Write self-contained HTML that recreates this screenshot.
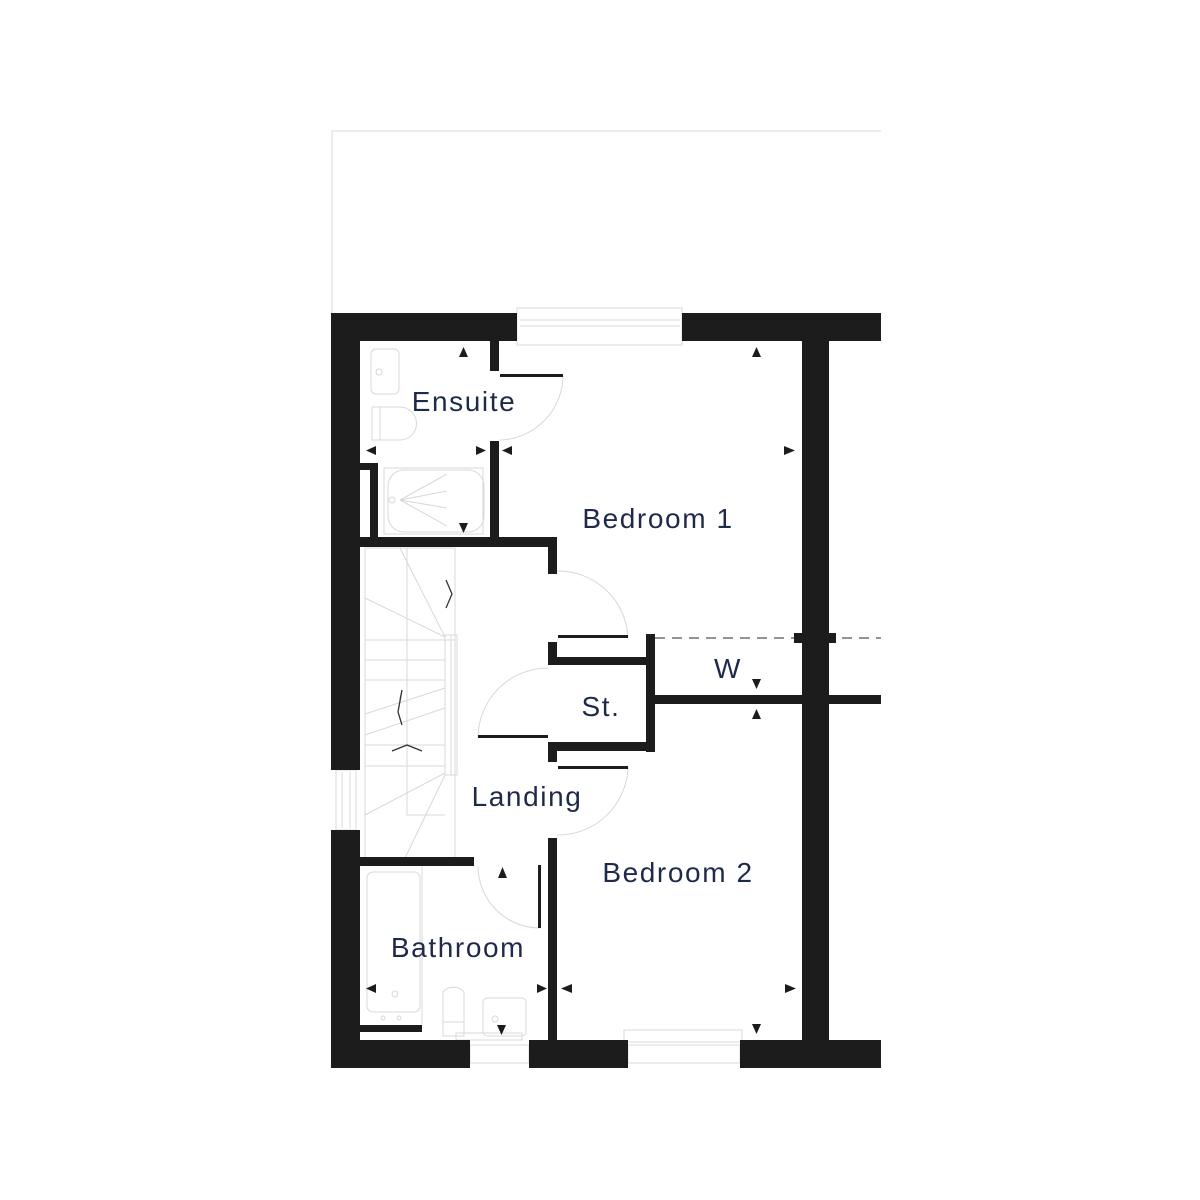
<!DOCTYPE html>
<html><head><style>body{margin:0;background:#fff}svg{display:block}</style></head><body>
<svg width="1200" height="1200" viewBox="0 0 1200 1200" xmlns="http://www.w3.org/2000/svg">
<g fill="none" stroke="#d8d8d8" stroke-width="1">
<polyline points="332,313 332,131 881,131"/>
<rect x="517" y="308" width="165" height="37"/>
<line x1="520" y1="320" x2="680" y2="320"/><line x1="520" y1="326" x2="680" y2="326"/>
<rect x="336" y="770" width="20" height="60"/>
<line x1="342" y1="772" x2="342" y2="828"/><line x1="350" y1="772" x2="350" y2="828"/>
<rect x="470" y="1045" width="59" height="18"/><rect x="628" y="1045" width="112" height="18"/>
<rect x="624" y="1030" width="118" height="12"/>
<rect x="371" y="349" width="28" height="45" rx="5"/><circle cx="379" cy="372" r="3"/>
<path d="M372 407 H400 A14 14 0 0 1 400 440 H372 Z"/><line x1="380" y1="407" x2="380" y2="440"/>
<rect x="384" y="468" width="99" height="66"/><rect x="388" y="470" width="96" height="62" rx="16"/>
<circle cx="392" cy="500" r="3"/>
<line x1="400" y1="500" x2="447" y2="474"/><line x1="400" y1="500" x2="447" y2="491"/><line x1="400" y1="500" x2="447" y2="508"/><line x1="400" y1="500" x2="447" y2="526"/>
<rect x="365" y="548" width="90" height="310"/>
<line x1="407" y1="548" x2="407" y2="815"/>
<line x1="365" y1="640" x2="455" y2="640"/><line x1="365" y1="660" x2="445" y2="660"/>
<line x1="365" y1="680" x2="445" y2="680"/><line x1="365" y1="745" x2="445" y2="745"/>
<line x1="365" y1="766" x2="445" y2="766"/>
<line x1="365" y1="714" x2="445" y2="688"/><line x1="365" y1="735" x2="445" y2="708"/>
<line x1="365" y1="815" x2="445" y2="773"/><line x1="407" y1="815" x2="445" y2="815"/>
<line x1="365" y1="598" x2="445" y2="637"/><line x1="400" y1="548" x2="445" y2="637"/>
<line x1="405" y1="858" x2="445" y2="775"/>
<rect x="445" y="635" width="12" height="140"/><line x1="451" y1="635" x2="451" y2="775"/>
<path d="M563 376 A65 65 0 0 1 500 440"/>
<path d="M557 571 A70 70 0 0 1 628 637"/>
<path d="M628 767 A70 70 0 0 1 557 835"/>
<path d="M478 737 A70 70 0 0 1 548 668"/>
<path d="M478 866 A62 62 0 0 0 540 928"/>
<rect x="367" y="872" width="53" height="140" rx="6"/><circle cx="395" cy="994" r="3"/>
<circle cx="383" cy="1018" r="2"/><circle cx="399" cy="1018" r="2"/>
<line x1="422" y1="866" x2="422" y2="1025"/>
<path d="M443 1036 V992 A14 14 0 0 1 464 992 V1036 Z"/><line x1="443" y1="1022" x2="464" y2="1022"/>
<rect x="483" y="998" width="43" height="38" rx="4"/><circle cx="495" cy="1019" r="3"/>
<rect x="456" y="1033" width="66" height="7"/>
</g>
<line x1="655" y1="638" x2="881" y2="638" stroke="#555" stroke-width="1.2" stroke-dasharray="10,7"/>
<g fill="#1c1c1c">
<rect x="331" y="313" width="186" height="28"/><rect x="682" y="313" width="199" height="28"/>
<rect x="331" y="313" width="29" height="457"/><rect x="331" y="830" width="29" height="238"/>
<rect x="331" y="1040" width="139" height="28"/><rect x="529" y="1040" width="99" height="28"/><rect x="740" y="1040" width="141" height="28"/>
<rect x="802" y="341" width="27" height="699"/>
<rect x="653" y="695" width="228" height="9"/>
<rect x="794" y="633" width="42" height="10"/>
<rect x="646" y="634" width="9" height="118"/>
<rect x="548" y="657" width="107" height="8"/><rect x="548" y="742" width="107" height="9"/>
<rect x="548" y="642" width="9" height="23"/><rect x="548" y="742" width="9" height="20"/>
<rect x="558" y="635" width="70" height="3"/><rect x="558" y="766" width="70" height="3"/><rect x="478" y="735" width="70" height="3"/>
<rect x="490" y="341" width="9" height="30"/><rect x="500" y="374" width="63" height="3"/>
<rect x="490" y="441" width="9" height="97"/>
<rect x="360" y="537" width="197" height="10"/><rect x="548" y="537" width="9" height="37"/>
<rect x="370" y="463" width="8" height="75"/><rect x="360" y="463" width="18" height="7"/>
<rect x="360" y="857" width="114" height="9"/>
<rect x="548" y="838" width="9" height="202"/><rect x="538" y="865" width="3" height="63"/>
<rect x="360" y="1025" width="62" height="7"/>
<path d="M459 357 L468 357 L463.5 347Z"/><path d="M752 357 L761 357 L756.5 347Z"/>
<path d="M376 446 L376 455 L366 450.5Z"/><path d="M476 446 L476 455 L486 450.5Z"/><path d="M512 446 L512 455 L502 450.5Z"/>
<path d="M784 446 L784 455 L795 450.5Z"/><path d="M459 523 L468 523 L463.5 533Z"/>
<path d="M752 679 L761 679 L756.5 689Z"/><path d="M752 719 L761 719 L756.5 709Z"/>
<path d="M498 878 L507 878 L502.5 867Z"/>
<path d="M376 984 L376 993 L366 988.5Z"/><path d="M537 984 L537 993 L547 988.5Z"/><path d="M572 984 L572 993 L561 988.5Z"/>
<path d="M785 984 L785 993 L796 988.5Z"/><path d="M497 1025 L506 1025 L501.5 1035Z"/><path d="M752 1024 L761 1024 L756.5 1034Z"/>
</g>
<g fill="none" stroke="#333" stroke-width="1.3">
<polyline points="446,580 452,594 446,608"/><polyline points="392,751 407,745 422,751"/>
<polyline points="400,700 402,690 398,712 402,725"/>
</g>
<g font-family="Liberation Sans, sans-serif" font-size="28" fill="#1f2a4a" text-anchor="middle" letter-spacing="1.6">
<text x="464" y="411">Ensuite</text><text x="658" y="528">Bedroom 1</text>
<text x="728" y="678">W</text><text x="601" y="716">St.</text>
<text x="527" y="806">Landing</text><text x="678" y="882">Bedroom 2</text>
<text x="458" y="957">Bathroom</text>
</g>
</svg>
</body></html>
